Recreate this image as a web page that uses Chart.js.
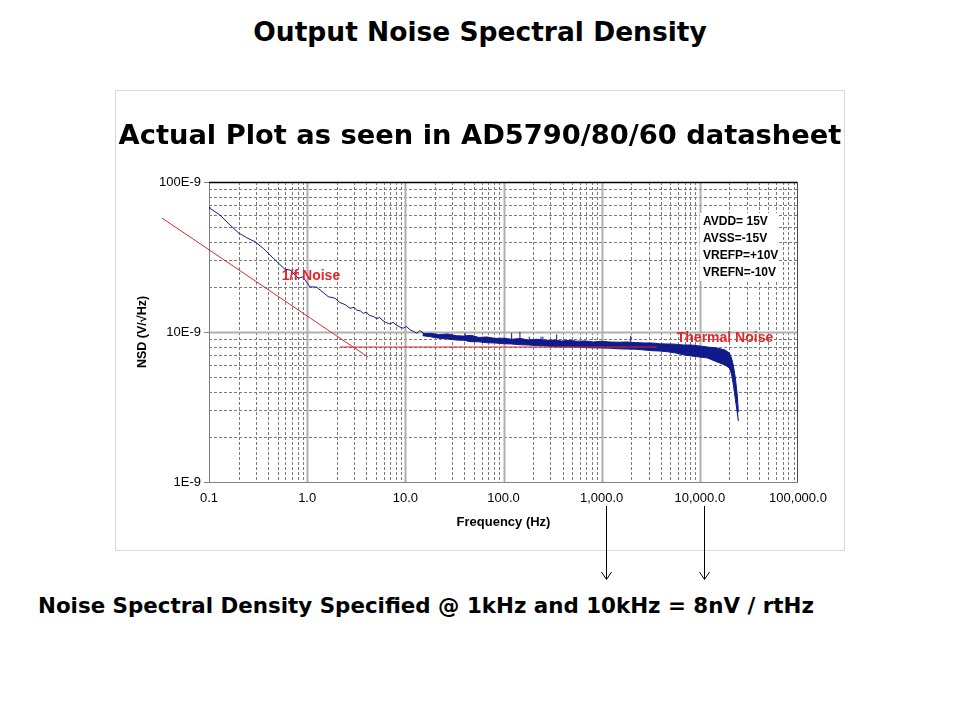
<!DOCTYPE html>
<html>
<head>
<meta charset="utf-8">
<script src="https://cdn.jsdelivr.net/npm/chart.js@4/dist/chart.umd.min.js"></script>
<style>
  body { margin: 0; width: 960px; height: 720px; background: #fff; position: relative; overflow: hidden; font-family: "DejaVu Sans", Verdana, sans-serif; }
  .t { position: absolute; left: 0; width: 960px; text-align: center; font-weight: bold; color: #000; white-space: nowrap; }
  #title { top: 16px; font-size: 26.5px; line-height: 32px; }
  #sub { top: 119px; font-size: 27.3px; line-height: 32px; }
  #note { position: absolute; left: 38px; top: 593px; font-size: 21.4px; line-height: 26px; font-weight: bold; white-space: nowrap; }
  #frame { position: absolute; left: 115px; top: 90px; width: 728px; height: 459px; border: 1px solid #d9d9d9; }
  #arrows { position: absolute; left: 0; top: 0; pointer-events: none; }
</style>
</head>
<body>
<div id="frame"><canvas id="nsd"></canvas></div>
<div class="t" id="title">Output Noise Spectral Density</div>
<div class="t" id="sub">Actual Plot as seen in AD5790/80/60 datasheet</div>
<div id="note">Noise Spectral Density Specified @ 1kHz and 10kHz = 8nV / rtHz</div>
<svg id="arrows" width="960" height="720">
  <g stroke="#000" stroke-width="1" fill="none">
    <path d="M606.5 506V579M601.5 572L606.5 579.5L611.5 572"/>
    <path d="M704.5 506V579M699.5 572L704.5 579.5L709.5 572"/>
  </g>
</svg>
<script>
(() => {
  'use strict'

  // axis ticks
  const xTicks = [0.1, 1, 10, 100, 1000, 10000, 100000]
  const xTickLabels = ['0.1', '1.0', '10.0', '100.0', '1,000.0', '10,000.0', '100,000.0']
  const yTicks = [1, 10, 100]            // nV
  const yTickLabels = ['1E-9', '10E-9', '100E-9']

  // low frequency part of the measured NSD (Hz, nV/rtHz)
  const lowFreq = [0.1, 0.102, 0.129, 0.164, 0.199, 0.242, 0.294, 0.357, 0.452, 0.594, 0.668, 0.813, 0.907,
    1.07, 1.25, 1.64, 1.92, 2.16, 2.45, 2.73, 3.0, 3.2, 3.5, 3.73, 4.0, 4.3, 4.7, 5.11, 5.5, 5.8, 6.3, 6.98, 7.5, 8.1, 8.8, 9.5,
    10.3, 11.2, 12.1, 13.1, 14.0, 15.2, 16.4, 17.8, 19.0, 20.5, 22.0]
  const lowNsd = [68, 66.8, 60.3, 51.7, 45.9, 42.5, 40.0, 36.1, 31.0, 26.2, 25.9, 22.8, 23.3,
    20.0, 19.9, 17.2, 16.8, 15.7, 15.2, 14.4, 14.6, 14.0, 13.8, 13.3, 13.6, 12.9, 12.7, 12.3, 12.5, 12.0, 11.6, 11.3, 11.6, 11.1, 10.8, 10.6,
    10.9, 10.3, 10.1, 9.8, 10.2, 9.9, 9.4, 9.7, 9.3, 9.6, 9.2]

  // dense noisy band, upper and lower edge (Hz, nV/rtHz)
  const bandFreq = [15, 18, 22, 27, 33, 39, 47, 56, 68, 82, 100, 120, 150, 180, 220, 270, 330, 390,
    470, 560, 680, 820, 1000, 1200, 1500, 1800, 2200, 2700, 3300, 3900, 4700, 5600, 6800, 8200, 10000,
    12000, 15000, 18000, 20000, 21000, 22000, 23000, 24000, 24700]
  const bandHigh = [9.75, 9.8, 9.6, 9.7, 9.45, 9.4, 9.5, 9.2, 9.26, 9.05, 9.1, 8.95, 9.05, 8.84, 8.95, 8.8, 8.84, 8.71,
    8.8, 8.68, 8.72, 8.58, 8.68, 8.58, 8.55, 8.58, 8.5, 8.45, 8.45, 8.34, 8.32, 8.3, 8.19, 8.19, 8.07,
    7.94, 7.82, 7.59, 7.24, 6.71, 5.94, 4.94, 3.86, 2.93]
  const bandLow = [9.45, 9.3, 9.1, 8.98, 8.84, 8.8, 8.62, 8.6, 8.48, 8.45, 8.35, 8.32, 8.22, 8.19, 8.1, 8.07, 7.98, 7.96,
    7.96, 7.94, 7.86, 7.84, 7.82, 7.8, 7.72, 7.70, 7.68, 7.59, 7.5, 7.47, 7.38, 7.26, 7.05, 6.92, 6.81,
    6.71, 6.31, 6.03, 5.75, 5.26, 4.43, 3.57, 2.93, 2.55]

  // line spikes sticking out of the band
  const spikeFreq = [40.6, 121, 147, 183, 241, 252, 348, 1977]
  const spikeBase = [9.4, 8.98, 8.98, 8.84, 8.84, 8.84, 8.84, 8.58]
  const spikePeak = [9.85, 9.85, 10.0, 9.3, 9.3, 9.3, 9.65, 9.45]

  // red guide lines drawn on the datasheet plot
  const oneOverFX = [0.0332, 4.18]
  const oneOverFY = [57.5, 6.8]
  const thermalX = [2.17, 3660]
  const thermalY = [7.94, 7.94]

  const conditions = ['AVDD= 15V', 'AVSS=-15V', 'VREFP=+10V', 'VREFN=-10V']

  const navy = '#101a8a'
  const red = '#e3262b'
  const pts = (xs, ys) => xs.map((x, i) => ({ x, y: ys[i] }))

  const spikeData = []
  spikeFreq.forEach((f, i) => {
    spikeData.push({ x: f, y: spikeBase[i] }, { x: f, y: spikePeak[i] }, { x: f, y: null })
  })

  // minor / major gridlines like the excel chart
  const decades = [0.1, 1, 10, 100, 1000, 10000]
  const xMinor = []
  decades.forEach(d => { for (let m = 2; m <= 9; m++) xMinor.push(d * m) })
  const yMinor = []
  ;[1, 10].forEach(d => { for (let m = 2; m <= 9; m++) yMinor.push(d * m) })

  const excelGrid = {
    id: 'excelGrid',
    beforeDatasetsDraw(chart) {
      const { ctx, chartArea: a, scales: { x, y } } = chart
      const px = v => Math.round(x.getPixelForValue(v)) + 0.5
      const py = v => Math.round(y.getPixelForValue(v)) + 0.5
      ctx.save()
      ctx.lineWidth = 1
      ctx.strokeStyle = '#7a7a7a'
      ctx.setLineDash([3, 2])
      ctx.beginPath()
      xMinor.forEach(v => { ctx.moveTo(px(v), a.top); ctx.lineTo(px(v), a.bottom) })
      yMinor.forEach(v => { ctx.moveTo(a.left, py(v)); ctx.lineTo(a.right, py(v)) })
      ctx.stroke()
      ctx.setLineDash([])
      ctx.strokeStyle = '#b0b0b0'
      ctx.lineWidth = 2
      ctx.beginPath()
      xTicks.slice(1, -1).forEach(v => { ctx.moveTo(px(v), a.top); ctx.lineTo(px(v), a.bottom) })
      ctx.moveTo(a.left, py(10)); ctx.lineTo(a.right, py(10))
      ctx.stroke()
      // axes and frame
      ctx.lineWidth = 1
      ctx.strokeStyle = '#808080'
      ctx.beginPath()
      ctx.moveTo(a.left + 0.5, a.top); ctx.lineTo(a.left + 0.5, a.bottom)
      ctx.moveTo(a.left, a.bottom + 0.5); ctx.lineTo(a.right, a.bottom + 0.5)
      yTicks.forEach(v => { ctx.moveTo(a.left - 5, py(v)); ctx.lineTo(a.left, py(v)) })
      ctx.stroke()
      ctx.strokeStyle = '#000'
      ctx.lineWidth = 1.5
      ctx.beginPath()
      ctx.moveTo(a.left, a.top + 0.5); ctx.lineTo(a.right, a.top + 0.5)
      ctx.stroke()
      ctx.strokeStyle = '#4a4a4a'
      ctx.lineWidth = 1
      ctx.beginPath()
      ctx.moveTo(a.right - 0.5, a.top); ctx.lineTo(a.right - 0.5, a.bottom)
      ctx.stroke()
      ctx.restore()
    },
    afterDatasetsDraw(chart) {
      const { ctx, chartArea: a } = chart
      ctx.save()
      // conditions text box
      ctx.fillStyle = '#fff'
      ctx.fillRect(a.left + 491, a.top + 31, 79, 68)
      ctx.fillStyle = '#000'
      ctx.font = 'bold 12px "Liberation Sans", Arial, sans-serif'
      ctx.textBaseline = 'middle'
      ctx.textAlign = 'left'
      conditions.forEach((s, i) => ctx.fillText(s, a.left + 494, a.top + 40 + i * 17))
      // red labels
      ctx.fillStyle = red
      ctx.font = 'bold 14px "Liberation Sans", Arial, sans-serif'
      ctx.textAlign = 'center'
      ctx.fillText('1/f Noise', a.left + 102, a.top + 94)
      ctx.fillText('Thermal Noise', a.left + 516, a.top + 156)
      ctx.restore()
    }
  }

  const tickFont = { family: '"Liberation Sans", Arial, sans-serif', size: 13 }

  new Chart(document.getElementById('nsd'), {
    type: 'line',
    data: {
      datasets: [
        { label: '1/f', data: pts(oneOverFX, oneOverFY), borderColor: red, borderWidth: 1, pointRadius: 0, clip: false },
        { label: 'thermal', data: pts(thermalX, thermalY), borderColor: red, borderWidth: 1, pointRadius: 0 },
        { label: 'nsd low', data: pts(lowFreq, lowNsd), borderColor: navy, borderWidth: 1, pointRadius: 0 },
        { label: 'spikes', data: spikeData, borderColor: navy, borderWidth: 1, pointRadius: 0, spanGaps: false },
        { label: 'band high', data: pts(bandFreq, bandHigh), borderColor: navy, borderWidth: 1, pointRadius: 0, fill: false },
        { label: 'band low', data: pts(bandFreq, bandLow), borderColor: navy, backgroundColor: navy, borderWidth: 1, pointRadius: 0, fill: '-1' }
      ]
    },
    options: {
      animation: false,
      responsive: true,
      maintainAspectRatio: false,
      layout: { padding: { top: 91, right: 46, left: 0, bottom: 0 } },
      plugins: {
        legend: { display: false },
        tooltip: { enabled: false }
      },
      scales: {
        x: {
          type: 'logarithmic',
          min: 0.1,
          max: 100000,
          afterFit: s => { s.height = 68 },
          afterBuildTicks: s => { s.ticks = xTicks.map(v => ({ value: v })) },
          grid: { display: false, drawTicks: false },
          border: { display: false },
          ticks: { autoSkip: false, maxRotation: 0, padding: 9, color: '#000', font: tickFont, callback: (v, i) => xTickLabels[i] },
          title: { display: true, text: 'Frequency (Hz)', color: '#000', font: { family: '"Liberation Sans", Arial, sans-serif', size: 13, weight: 'bold' }, padding: { top: 0, bottom: 20 } }
        },
        y: {
          type: 'logarithmic',
          min: 1,
          max: 100,
          afterFit: s => { s.width = 93 },
          afterBuildTicks: s => { s.ticks = yTicks.map(v => ({ value: v })) },
          grid: { display: false, drawTicks: false },
          border: { display: false },
          ticks: { autoSkip: false, padding: 8, color: '#000', font: tickFont, callback: (v, i) => yTickLabels[i] },
          title: { display: true, text: 'NSD (V/\u221AHz)', color: '#000', font: { family: '"Liberation Sans", Arial, sans-serif', size: 12.5, weight: 'bold' }, padding: { top: 19, bottom: 0 } }
        }
      }
    },
    plugins: [excelGrid]
  })
})()
</script>
</body>
</html>
